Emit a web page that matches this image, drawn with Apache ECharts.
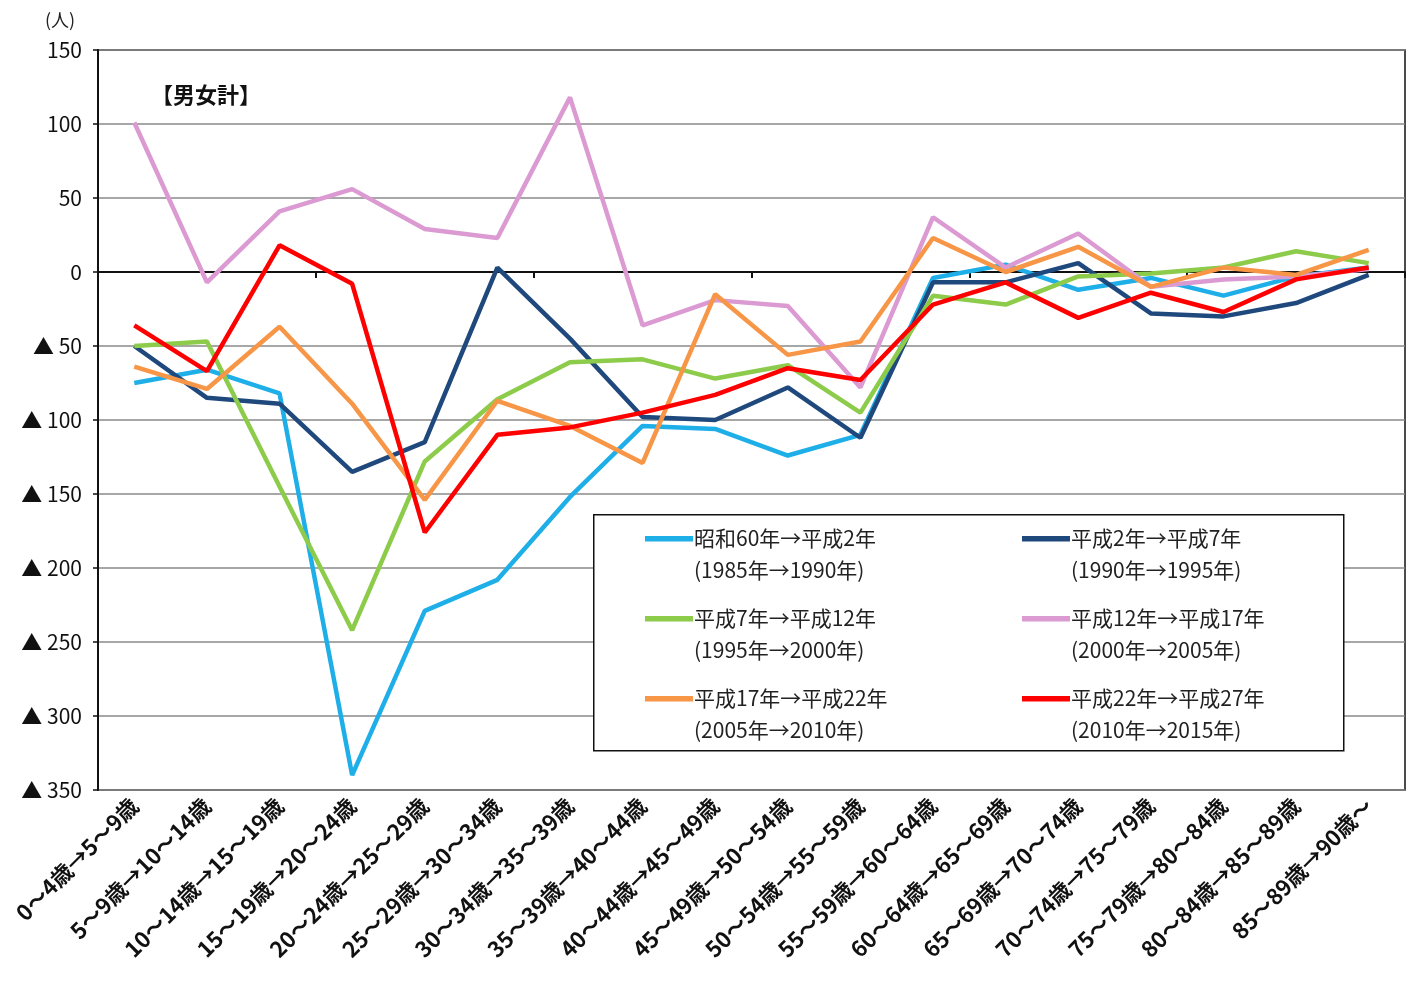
<!DOCTYPE html>
<html>
<head>
<meta charset="utf-8">
<script src="https://cdn.jsdelivr.net/npm/echarts@6/dist/echarts.min.js"></script>
<style>
html,body{margin:0;padding:0;background:#fff;}
#chart{width:1413px;height:981px;}
</style>
</head>
<body>
<div id="chart"></div>
<script>
// ---- data ----
const categories = [
  '0～4歳→5～9歳','5～9歳→10～14歳','10～14歳→15～19歳','15～19歳→20～24歳',
  '20～24歳→25～29歳','25～29歳→30～34歳','30～34歳→35～39歳','35～39歳→40～44歳',
  '40～44歳→45～49歳','45～49歳→50～54歳','50～54歳→55～59歳','55～59歳→60～64歳',
  '60～64歳→65～69歳','65～69歳→70～74歳','70～74歳→75～79歳','75～79歳→80～84歳',
  '80～84歳→85～89歳','85～89歳→90歳～'
];
const s1985 = [-75, -66, -82, -340, -229, -208, -152, -104, -106, -124, -110, -4, 5, -12, -4, -16, -3, 3];
const s1990 = [-50, -85, -89, -135, -115, 3, -45, -98, -100, -78, -112, -7, -7, 6, -28, -30, -21, -2];
const s1995 = [-50, -47, -145, -242, -128, -86, -61, -59, -72, -63, -95, -16, -22, -3, -1, 3, 14, 6];
const s2000 = [101, -7, 41, 56, 29, 23, 118, -36, -19, -23, -78, 37, 3, 26, -10, -5, -3, 2];
const s2005 = [-64, -79, -37, -89, -154, -87, -104, -129, -15, -56, -47, 23, 0, 17, -10, 3, -2, 15];
const s2010 = [-36, -67, 18, -8, -176, -110, -105, -95, -83, -65, -73, -22, -7, -31, -14, -27, -5, 3];
const seriesNames = ['昭和60年→平成2年','平成2年→平成7年','平成7年→平成12年','平成12年→平成17年','平成17年→平成22年','平成22年→平成27年'];
const seriesSub = ['(1985年→1990年)','(1990年→1995年)','(1995年→2000年)','(2000年→2005年)','(2005年→2010年)','(2010年→2015年)'];
const yTicks = {min: -350, max: 150, interval: 50};

const colors = ['#1eaee8','#1f497d','#8dcb4a','#dc9ad2','#f79646','#ff0000'];
const seriesData = [s1985, s1990, s1995, s2000, s2005, s2010];
const FONT = '"Noto Sans CJK JP", "Noto Sans", sans-serif';

const chart = echarts.init(document.getElementById('chart'));
const legendIcon = 'path://M0,0h0.05v0.05h-0.05z M0,14h48v5.5h-48z M0,63.95h0.05v0.05h-0.05z';
const subMap = {};
seriesNames.forEach((n,i)=>{subMap[n]=seriesSub[i];});
const legendCommon = {
  orient: 'vertical',
  icon: legendIcon,
  itemWidth: 48,
  itemHeight: 64,
  itemGap: 16,
  padding: 0,
  selectedMode: false,
  textStyle: {fontFamily: FONT, fontSize: 21, lineHeight: 32, color: '#222', padding: [0,0,0,-4]},
  formatter: n => n + '\n' + subMap[n]
};

chart.setOption({
  animation: false,
  backgroundColor: '#fff',
  title: [
    {text: '【男女計】', left: 146, top: 79, textStyle: {fontFamily: FONT, fontSize: 22, fontWeight: 'bold', color: '#111'}},
    {text: '(人)', left: 40, top: 6, textStyle: {fontFamily: FONT, fontSize: 18, fontWeight: 'normal', color: '#222'}}
  ],
  grid: {left: 98, right: 8, top: 50, bottom: 191, show: true, borderColor: '#111', borderWidth: 1.5},
  legend: [
    Object.assign({left: 645, top: 522, data: [seriesNames[0], seriesNames[2], seriesNames[4]]}, legendCommon),
    Object.assign({left: 1022, top: 522, data: [seriesNames[1], seriesNames[3], seriesNames[5]]}, legendCommon)
  ],
  graphic: [{
    type: 'rect', left: 593, top: 514, z: 2,
    shape: {width: 750, height: 236},
    style: {fill: '#fff', stroke: '#111', lineWidth: 1.5}
  }],
  xAxis: [
    {
      type: 'category', data: categories, boundaryGap: true,
      axisLine: {onZero: true, lineStyle: {color: '#111', width: 2}},
      axisTick: {show: true, length: 6, lineStyle: {color: '#111', width: 2}},
      axisLabel: {show: false}
    },
    {
      type: 'category', data: categories, boundaryGap: true, position: 'bottom',
      axisLine: {show: false, onZero: false},
      axisTick: {show: false},
      axisLabel: {
        rotate: 45, margin: 12, fontFamily: FONT, fontSize: 22, fontWeight: 'bold', color: '#111', interval: 0
      }
    }
  ],
  yAxis: {
    type: 'value', min: yTicks.min, max: yTicks.max, interval: yTicks.interval,
    axisLine: {show: true, lineStyle: {color: '#111', width: 2}},
    axisTick: {show: true, length: 5, lineStyle: {color: '#111', width: 1.5}},
    axisLabel: {
      margin: 16, fontFamily: FONT, fontSize: 21, color: '#111',
      formatter: v => v < 0 ? '▲ ' + (-v) : String(v)
    },
    splitLine: {lineStyle: {color: '#8a8a8a', width: 1.5}}
  },
  series: seriesNames.map((n, i) => ({
    name: n, type: 'line', xAxisIndex: 0, data: seriesData[i],
    symbol: 'none', color: colors[i],
    lineStyle: {width: 4.5, color: colors[i]},
    itemStyle: {color: colors[i]},
    z: 3 + i
  }))
});
</script>
</body>
</html>
